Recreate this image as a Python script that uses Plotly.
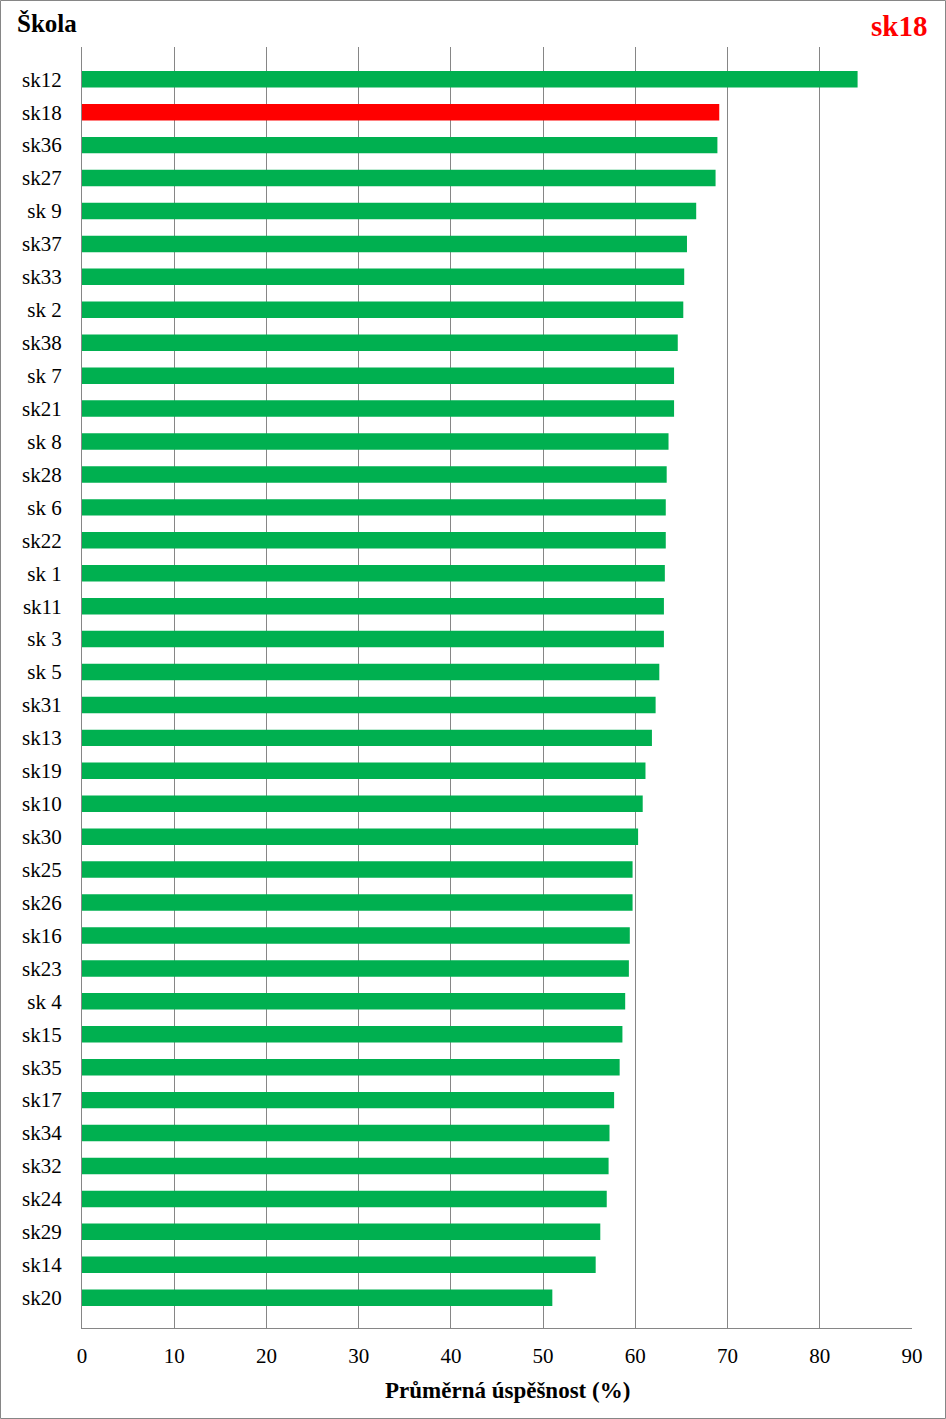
import plotly.graph_objects as go

schools = ["sk12", "sk18", "sk36", "sk27", "sk 9", "sk37", "sk33", "sk 2", "sk38", "sk 7",
           "sk21", "sk 8", "sk28", "sk 6", "sk22", "sk 1", "sk11", "sk 3", "sk 5", "sk31",
           "sk13", "sk19", "sk10", "sk30", "sk25", "sk26", "sk16", "sk23", "sk 4", "sk15",
           "sk35", "sk17", "sk34", "sk32", "sk24", "sk29", "sk14", "sk20"]
values = [84.1, 69.1, 68.9, 68.7, 66.6, 65.6, 65.3, 65.2, 64.6, 64.2,
          64.2, 63.6, 63.4, 63.3, 63.3, 63.2, 63.1, 63.1, 62.6, 62.2,
          61.8, 61.1, 60.8, 60.3, 59.7, 59.7, 59.4, 59.3, 58.9, 58.6,
          58.3, 57.7, 57.2, 57.1, 56.9, 56.2, 55.7, 51.0]
highlight = "sk18"
x_ticks = [0, 10, 20, 30, 40, 50, 60, 70, 80, 90]

colors = ["#FF0000" if s == highlight else "#00B050" for s in schools]

W, H = 946, 1419
ml, mr, mt, mb = 82, 34, 47, 91
pw, ph = W - ml - mr, H - mt - mb

fig = go.Figure(go.Bar(
    x=values, y=schools, orientation="h",
    marker=dict(color=colors, line=dict(width=0)),
    width=0.5,
))

font = "Liberation Serif"
fig.update_layout(
    width=W, height=H,
    margin=dict(l=ml, r=mr, t=mt, b=mb),
    plot_bgcolor="white", paper_bgcolor="white",
    showlegend=False,
    font=dict(family=font, size=21, color="black"),
    xaxis=dict(range=[0, 90], tickvals=x_ticks, showgrid=True, gridcolor="#868686",
               gridwidth=1, showline=True, linecolor="#868686", linewidth=1,
               zeroline=False, ticks="", ticklabelstandoff=9,
               tickfont=dict(family=font, size=21)),
    yaxis=dict(type="category", categoryorder="array", categoryarray=schools,
               range=[37.92, -0.98], showgrid=False, showline=True,
               linecolor="#868686", linewidth=1, ticks="", ticklabelstandoff=15,
               tickfont=dict(family=font, size=21)),
    annotations=[
        dict(text="<b>Průměrná úspěšnost (%)</b>", xref="paper", yref="paper",
             x=(507 - ml) / pw, y=-(1390 - (H - mb)) / ph, xanchor="center", yanchor="middle",
             showarrow=False, font=dict(family=font, size=23, color="black")),
        dict(text="<b>Škola</b>", xref="paper", yref="paper",
             x=(15 - ml) / pw, y=1 + (mt - 24) / ph, xanchor="left", yanchor="middle",
             showarrow=False, font=dict(family=font, size=25, color="black")),
        dict(text="<b>" + highlight + "</b>", xref="paper", yref="paper",
             x=(929 - ml) / pw, y=1 + (mt - 26) / ph, xanchor="right", yanchor="middle",
             showarrow=False, font=dict(family=font, size=29, color="#FF0000")),
    ],
    shapes=[dict(type="rect", xref="paper", yref="paper",
                 x0=(0.5 - ml) / pw, x1=(W - 0.5 - ml) / pw,
                 y0=-(mb - 0.5) / ph, y1=1 + (mt - 0.5) / ph,
                 line=dict(color="#868686", width=1), layer="above")],
)

fig.write_html("out.html")
